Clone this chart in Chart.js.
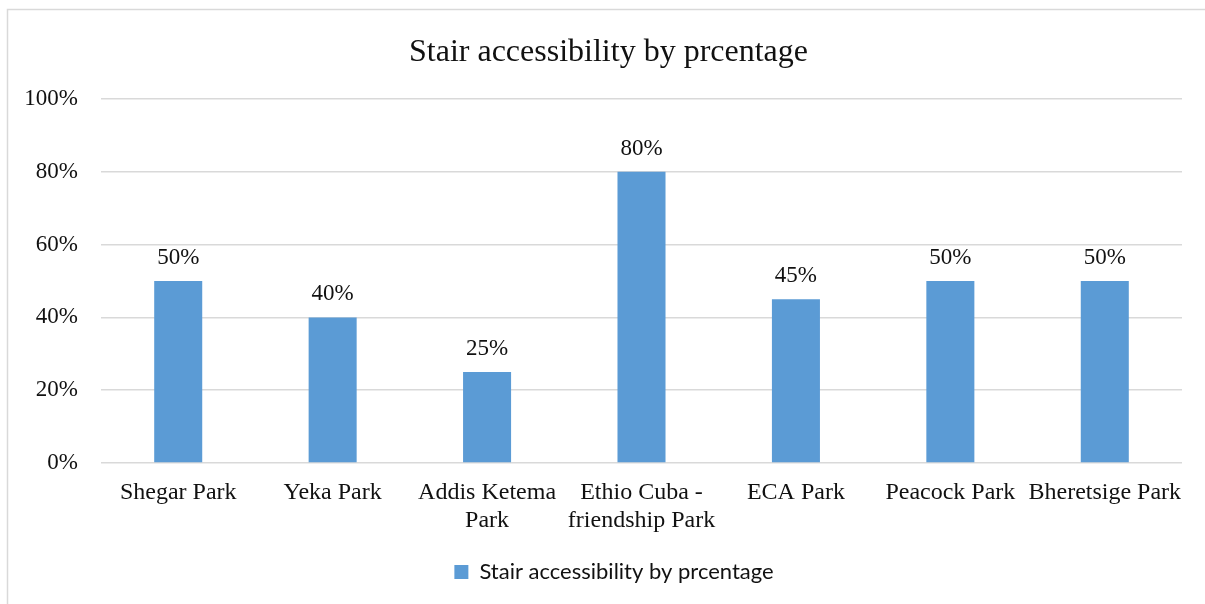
<!DOCTYPE html>
<html>
<head>
<meta charset="utf-8">
<script src="https://cdn.jsdelivr.net/npm/chart.js@4.4.1/dist/chart.umd.min.js"></script>
<style>
  html, body { margin: 0; padding: 0; background: #ffffff; }
  #wrap { position: relative; width: 1205px; height: 604px; }
</style>
</head>
<body>
<div id="wrap"><canvas id="chart" width="1205" height="604"></canvas></div>
<script>
// Parks and their share of accessible stairs (percent)
const parks = [
  'Shegar Park',
  'Yeka Park',
  ['Addis Ketema', 'Park'],
  ['Ethio Cuba -', 'friendship Park'],
  'ECA Park',
  'Peacock Park',
  'Bheretsige Park'
];
const stairAccess = [50, 40, 25, 80, 45, 50, 50];
const yTicks = [0, 20, 40, 60, 80, 100];
const seriesName = 'Stair accessibility by prcentage';

const SERIF = '"Liberation Serif", "Times New Roman", serif';
const SANS = 'Lato, "Liberation Sans", Arial, sans-serif';
const BAR_BLUE = '#5B9BD5';
const GRID = '#D9D9D9';

// Thin frame around the whole chart
const framePlugin = {
  id: 'frame',
  beforeDraw(chart) {
    const ctx = chart.ctx;
    ctx.save();
    ctx.fillStyle = '#ffffff';
    ctx.fillRect(0, 0, chart.width, chart.height);
    ctx.strokeStyle = GRID;
    ctx.lineWidth = 1.5;
    ctx.strokeRect(7.5, 9.5, chart.width + 20, chart.height + 20);
    ctx.restore();
  }
};

// Centre the title and legend under the whole frame rather than the padded layout box
const blockShift = {
  id: 'blockShift',
  afterLayout(chart) {
    if (chart.titleBlock) {
      chart.titleBlock.left += 35;
    }
    if (chart.legend) {
      chart.legend.left += 46;
      if (chart.legend.adjustHitBoxes) chart.legend.adjustHitBoxes();
    }
  }
};

// Value labels above each bar
const valueLabels = {
  id: 'valueLabels',
  afterDatasetsDraw(chart) {
    const ctx = chart.ctx;
    const meta = chart.getDatasetMeta(0);
    ctx.save();
    ctx.font = '23px ' + SERIF;
    ctx.fillStyle = '#111111';
    ctx.textAlign = 'center';
    ctx.textBaseline = 'alphabetic';
    meta.data.forEach((bar, i) => {
      ctx.fillText(stairAccess[i] + '%', bar.x, bar.y - 17);
    });
    ctx.restore();
  }
};

new Chart(document.getElementById('chart'), {
  type: 'bar',
  data: {
    labels: parks,
    datasets: [{
      label: seriesName,
      data: stairAccess,
      backgroundColor: BAR_BLUE,
      borderWidth: 0,
      barPercentage: 0.311,
      categoryPercentage: 1.0
    }]
  },
  options: {
    responsive: false,
    animation: false,
    layout: { padding: { left: 0, right: 23, top: 0, bottom: 11 } },
    plugins: {
      title: {
        display: true,
        text: seriesName,
        color: '#111111',
        font: { family: SERIF, size: 32, weight: 'normal' },
        padding: { top: 33, bottom: 27.6 }
      },
      legend: {
        display: true,
        position: 'bottom',
        labels: {
          color: '#111111',
          font: { family: SANS, size: 22 },
          boxWidth: 14,
          boxHeight: 14,
          padding: 10
        }
      },
      tooltip: { enabled: false }
    },
    scales: {
      x: {
        grid: { display: false, drawTicks: false },
        border: { display: false },
        ticks: {
          color: '#111111',
          font: { family: SERIF, size: 24 },
          padding: 15,
          maxRotation: 0,
          autoSkip: false
        },
        afterFit(scale) { scale.height = 88; }
      },
      y: {
        min: 0,
        max: 100,
        afterBuildTicks(scale) { scale.ticks = yTicks.map(v => ({ value: v })); },
        grid: { color: GRID, lineWidth: 1.5, drawTicks: false },
        border: { display: false },
        ticks: {
          color: '#111111',
          font: { family: SERIF, size: 23 },
          padding: 23,
          callback: v => v + '%'
        },
        afterFit(scale) { scale.width = 101; }
      }
    }
  },
  plugins: [framePlugin, blockShift, valueLabels]
});
</script>
</body>
</html>
